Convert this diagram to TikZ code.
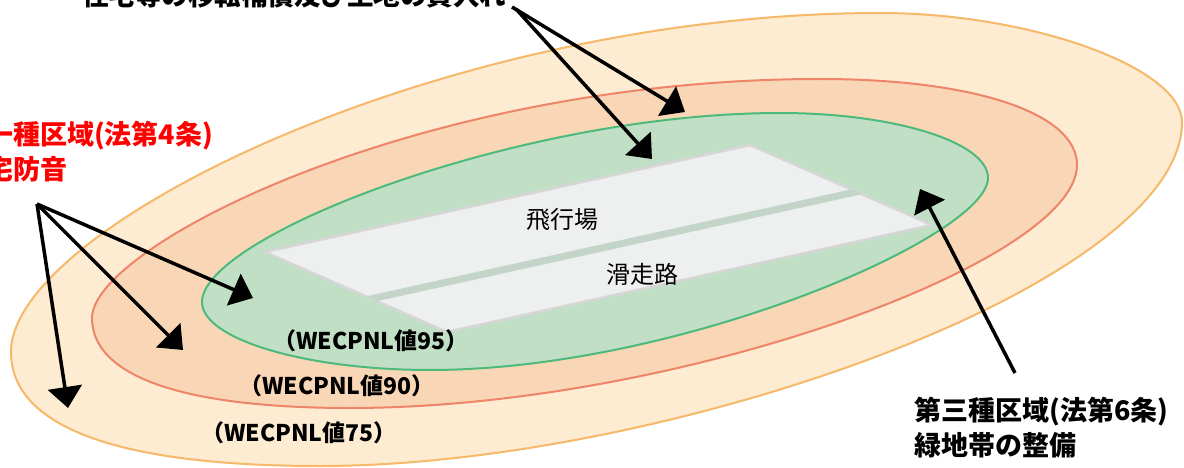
\documentclass[tikz,border=0pt]{standalone}
\usepackage{fontspec}
\setmainfont{Noto Sans CJK JP}
\usetikzlibrary{arrows.meta,calc}
\definecolor{outerfill}{HTML}{FDEBD2}
\definecolor{outerline}{HTML}{F6B869}
\definecolor{midfill}{HTML}{F9D7B6}
\definecolor{midline}{HTML}{EE8468}
\definecolor{greenfill}{HTML}{C0DFC5}
\definecolor{greenline}{HTML}{4DB97B}
\definecolor{rwfill}{HTML}{EEEFEF}
\definecolor{rwline}{HTML}{D6D6D6}
\definecolor{strip}{HTML}{C3D5C8}
\definecolor{labred}{HTML}{FF0000}
\begin{document}
\begin{tikzpicture}[x=1pt,y=-1pt,
  zone/.style={line width=2pt},
  ptr/.style={line width=3.5pt,black,-{Triangle[length=21pt,width=34pt]}},
  bigtxt/.style={inner sep=0pt,font=\fontsize{27}{32}\selectfont\bfseries},
  midtxt/.style={inner sep=0pt,font=\fontsize{24}{28}\selectfont},
  wtxt/.style={inner sep=0pt,font=\fontsize{23}{27}\selectfont\bfseries}]
\useasboundingbox (0,0) rectangle (1184,468);
\clip (0,0) rectangle (1184,468);
\fill[white] (0,0) rectangle (1184,468);
% zones (egg-shaped rings)
\draw[zone,fill=outerfill,draw=outerline]
  (11,352) .. controls (11,226.6) and (445.5,13) .. (880,13)
  .. controls (1030,13) and (1182,67.5) .. (1182,122)
  .. controls (1182,284.6) and (665.6,466) .. (320,466)
  .. controls (119,466) and (11,427.4) .. (11,352) -- cycle;
\draw[zone,fill=midfill,draw=midline]
  (92,318) .. controls (92,246) and (420,79) .. (820,79)
  .. controls (974,79) and (1077,113) .. (1077,165)
  .. controls (1077,262) and (677,408) .. (350,408)
  .. controls (182,408) and (92,376) .. (92,318) -- cycle;
\draw[zone,fill=greenfill,draw=greenline]
  (202,302) .. controls (202,236) and (520,113) .. (780,113)
  .. controls (894,113) and (988,142) .. (988,178)
  .. controls (988,236) and (681,370) .. (430,370)
  .. controls (305,370) and (202,339) .. (202,302) -- cycle;
% runway
\coordinate (rL) at (265,252);
\coordinate (rT) at (750,145);
\coordinate (rR) at (932,225);
\coordinate (rB) at (447,332);
\draw[fill=rwfill,draw=rwline,line width=2.5pt,line join=round] (rL) -- (rT) -- (rR) -- (rB) -- cycle;
\fill[strip] ($(rL)!0.555!(rB)$) -- ($(rT)!0.555!(rR)$) -- ($(rT)!0.615!(rR)$) -- ($(rL)!0.615!(rB)$) -- cycle;
% texts
\node[midtxt] (airport) at (562,219) {飛行場};
\node[midtxt] (runway) at (642,274) {滑走路};
\node[wtxt] (w95) at (371,341) {（WECPNL値95）};
\node[wtxt] (w90) at (337,386) {（WECPNL値90）};
\node[wtxt] (w75) at (299,433) {（WECPNL値75）};
\node[bigtxt,anchor=base west,font=\fontsize{26.5}{32}\selectfont\bfseries] (toptxt) at (82,6) {住宅等の移転補償及び土地の買入れ};
\node[bigtxt,anchor=base west,text=labred] (redA) at (-41,145) {第一種区域(法第4条)};
\node[bigtxt,anchor=base west,text=labred] (redB) at (-41,180) {住宅防音};
\node[bigtxt,anchor=base west] (rightA) at (914,420) {第三種区域(法第6条)};
\node[bigtxt,anchor=base west] (rightB) at (914,455) {緑地帯の整備};
% arrow ends
\coordinate (sTop1) at (512,7);
\coordinate (sTop2) at (516,9);
\coordinate (sLeft) at (37,204);
\coordinate (sRight) at (1015,373);
\coordinate (t1) at (685,112);
\coordinate (t2) at (652,159);
\coordinate (t3) at (253,298);
\coordinate (t4) at (183,350);
\coordinate (t5) at (68,408);
\coordinate (t6) at (920,189);
\draw[ptr] (sTop1) -- (t1);
\draw[ptr] (sTop2) -- (t2);
\draw[ptr] (sLeft) -- (t3);
\draw[ptr] (sLeft) -- (t4);
\draw[ptr] (sLeft) -- (t5);
\draw[ptr] (sRight) -- (t6);
\end{tikzpicture}
\end{document}
